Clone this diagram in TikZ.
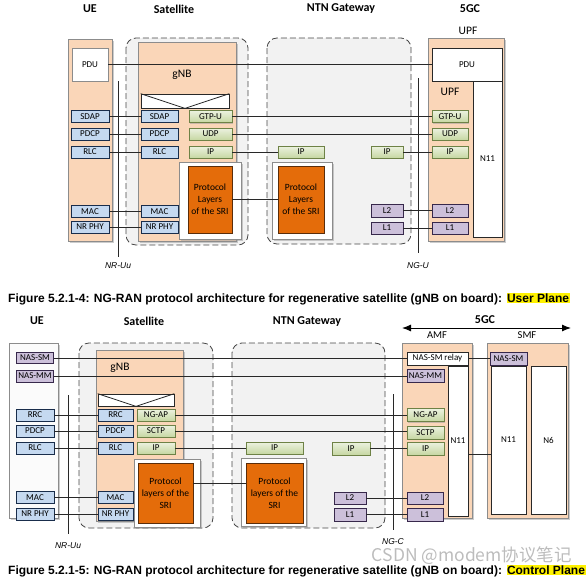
\documentclass[tikz,border=0pt]{standalone}
\usepackage{fontspec}
\setmainfont{Carlito}
\newfontfamily\capfont{Liberation Sans}
\newfontfamily\cjkfont{Noto Sans CJK SC}
\usetikzlibrary{positioning,shadows,arrows.meta,decorations.pathmorphing}

\definecolor{Peach}{RGB}{250,214,184}
\definecolor{PaleBox}{RGB}{251,251,251}
\definecolor{BoxLine}{RGB}{140,140,140}
\definecolor{RegionFill}{RGB}{242,242,242}
\definecolor{RegionLine}{RGB}{70,70,70}
\definecolor{BlueFill}{RGB}{197,217,240}
\definecolor{BlueLine}{RGB}{25,45,75}
\definecolor{GreenTop}{RGB}{236,242,224}
\definecolor{GreenBot}{RGB}{198,215,162}
\definecolor{GreenLine}{RGB}{110,130,70}
\definecolor{PurFill}{RGB}{204,192,218}
\definecolor{PurLine}{RGB}{55,40,75}
\definecolor{SriOrange}{RGB}{228,108,10}
\definecolor{SriLine}{RGB}{90,45,10}
\definecolor{LinkCol}{RGB}{40,40,40}

\newlength\capprewd
\newlength\capgnbwd
\newcommand\capfmt{\capfont\bfseries\fontsize{12}{14}\selectfont}
\newcommand\hlyellow[1]{{\setlength{\fboxsep}{0.5pt}\colorbox{yellow}{#1}}}

\begin{document}
\begin{tikzpicture}[x=1pt,y=-1pt,
    title/.style={font=\bfseries\fontsize{12}{14}\selectfont, inner sep=0pt},
    sublabel/.style={font=\fontsize{11.5}{13}\selectfont, inner sep=0pt},
    region/.style={draw=RegionLine, fill=RegionFill, dash pattern=on 6pt off 3pt, line width=0.8pt, rounded corners=10pt},
    entity/.style={draw=BoxLine, fill=#1, line width=0.6pt, inner sep=0pt,
      drop shadow={shadow xshift=2pt, shadow yshift=-2pt, fill=black!40}},
    layer/.style={draw, line width=0.7pt, inner sep=0pt, minimum height=12pt, font=\fontsize{9}{10}\selectfont},
    blue layer/.style={layer, draw=BlueLine, fill=BlueFill},
    green layer/.style={layer, draw=GreenLine, top color=GreenTop, bottom color=GreenBot,
      drop shadow={shadow xshift=1pt, shadow yshift=-1pt, fill=black!40}},
    purple layer/.style={layer, draw=PurLine, fill=PurFill},
    whitebox/.style={draw=LinkCol, fill=white, line width=0.7pt, inner sep=0pt, font=\fontsize{9}{10}\selectfont},
    sribox/.style={draw=BoxLine, fill=white, line width=0.6pt, inner sep=0pt,
      drop shadow={shadow xshift=1.5pt, shadow yshift=-1.5pt, fill=black!40}},
    sri/.style={draw=SriLine, fill=SriOrange, line width=0.6pt, inner sep=0pt, align=center, font=\fontsize{9.5}{12}\selectfont},
    link/.style={draw=LinkCol, line width=0.8pt},
    iface/.style={font=\capfont\itshape\fontsize{8.5}{10}\selectfont, inner sep=0pt},
    caption/.style={font=\capfmt, inner sep=0pt, anchor=base west},
    spell/.style={draw=red, line width=0.5pt, decorate, decoration={zigzag, amplitude=0.8pt, segment length=2.2pt}}]
  \useasboundingbox (0,0) rectangle (587,581);
  \settowidth{\capprewd}{\capfmt Figure 5.2.1-4: NG-RAN protocol architecture for regenerative satellite (}
  \settowidth{\capgnbwd}{\capfmt gNB}

  %% ---------------- user plane ----------------
  \node[title] (UpUeTtl)  at (90,9)  {UE};
  \node[title] (UpSatTtl) at (174,9) {Satellite};
  \node[title] (UpNtnTtl) at (341,9) {NTN Gateway};
  \node[title] (UpCnTtl)  at (470,9) {5GC};
  \node[sublabel] (UpUpfTtl) at (468,31) {UPF};

  \path[region] (126,38) rectangle (248,245);% satellite
  \path[region] (267,38) rectangle (411,244);% gateway

  \node[entity=Peach, minimum width=44pt, minimum height=202pt] (UpUeBox)  at (90,140) {};
  \node[entity=Peach, minimum width=98pt, minimum height=199pt] (UpGnbBox) at (187,141.5) {};
  \node[entity=Peach, minimum width=76pt, minimum height=203pt] (UpUpfBox) at (466,139.5) {};

  \node[sublabel] (UpGnbLbl) at (182,75) {gNB};
  \node[sublabel] (UpUpfLbl) at (450,92) {UPF};

  \node[whitebox, draw=BoxLine, minimum width=36pt, minimum height=33pt] (UpUePdu) at (90,64.5) {PDU};
  \node[whitebox, minimum width=70pt, minimum height=33pt] (UpUpfPdu) at (467,64.5) {PDU};
  \node[whitebox, minimum width=29pt, minimum height=156pt] (UpUpfN11) at (487.5,159) {N11};
  \node[whitebox, minimum width=88pt, minimum height=14pt] (UpWedge) at (185,101) {};
  \draw[link] (UpWedge.north west) -- (UpWedge.south) -- (UpWedge.north east);

  \node[sribox, minimum width=62pt, minimum height=77pt] (UpSriBoxA) at (210,200.5) {};
  \node[sribox, minimum width=60pt, minimum height=77pt] (UpSriBoxB) at (302,200.5) {};
  \node[sri, minimum width=44pt, minimum height=67pt] (UpSriA) at (210,199.5) {Protocol\\Layers\\of the SRI};
  \node[sri, minimum width=46pt, minimum height=67pt] (UpSriB) at (301,199.5) {Protocol\\Layers\\of the SRI};

  \foreach \nm/\txt/\y in {UpUeSdap/SDAP/116.5, UpUePdcp/PDCP/134, UpUeRlc/RLC/152, UpUeMac/MAC/211.5, UpUePhy/NR PHY/227}
    \node[blue layer, minimum width=38pt] (\nm) at (90,\y) {\txt};
  \foreach \nm/\txt/\y in {UpGnbSdap/SDAP/116.5, UpGnbPdcp/PDCP/134, UpGnbRlc/RLC/152, UpGnbMac/MAC/211.5, UpGnbPhy/NR PHY/227}
    \node[blue layer, minimum width=37pt] (\nm) at (159.5,\y) {\txt};
  \foreach \nm/\txt/\y in {UpGnbGtpu/GTP-U/116.5, UpGnbUdp/UDP/134, UpGnbIp/IP/152}
    \node[green layer, minimum width=43pt] (\nm) at (210.5,\y) {\txt};
  \foreach \nm/\txt/\y in {UpUpfGtpu/GTP-U/116.5, UpUpfUdp/UDP/134, UpUpfIp/IP/152}
    \node[green layer, minimum width=36pt] (\nm) at (450,\y) {\txt};
  \node[green layer, minimum width=46pt] (UpNtnIpA) at (301,152) {IP};
  \node[green layer, minimum width=32pt] (UpNtnIpB) at (387,152) {IP};
  \node[purple layer, minimum width=32pt, minimum height=13pt] (UpNtnL2) at (387,210.5) {L2};
  \node[purple layer, minimum width=32pt] (UpNtnL1) at (387,228) {L1};
  \node[purple layer, minimum width=36pt, minimum height=13pt] (UpUpfL2) at (450,210.5) {L2};
  \node[purple layer, minimum width=36pt] (UpUpfL1) at (450,228) {L1};

  \foreach \a/\b in {UpUePdu/UpUpfPdu, UpUeSdap/UpGnbSdap, UpUePdcp/UpGnbPdcp, UpUeRlc/UpGnbRlc,
      UpUeMac/UpGnbMac, UpUePhy/UpGnbPhy, UpGnbGtpu/UpUpfGtpu, UpGnbUdp/UpUpfUdp,
      UpGnbIp/UpNtnIpA, UpNtnIpB/UpUpfIp, UpSriA/UpSriB, UpNtnL2/UpUpfL2, UpNtnL1/UpUpfL1}
    \draw[link] (\a.east) -- (\a.east -| \b.west);

  \coordinate (UpUuTop) at (118,81);
  \coordinate (UpUuBot) at (118,257);
  \coordinate (UpNgTop) at (418,78);
  \coordinate (UpNgBot) at (418,253);
  \draw[link, line width=0.9pt] (UpUuTop) -- (UpUuBot);
  \draw[link, line width=0.9pt] (UpNgTop) -- (UpNgBot);
  \node[iface, below=5pt of UpUuBot] (UpUuLbl) {NR-Uu};
  \node[iface, below=9pt of UpNgBot] (UpNgLbl) {NG-U};

  \node[caption] (UpCaption) at (8,302.5)
    {Figure 5.2.1-4: NG-RAN protocol architecture for regenerative satellite (gNB on board): \hlyellow{User Plane}};
  \draw[spell] ([xshift=\capprewd, yshift=-2.8pt]UpCaption.base west) -- ++(\capgnbwd,0);

  %% ---------------- control plane ----------------
  \node[title] (CpUeTtl)  at (37,321)  {UE};
  \node[title] (CpSatTtl) at (144,321) {Satellite};
  \node[title] (CpNtnTtl) at (307,322) {NTN Gateway};
  \node[title] (CpCnTtl)  at (485,320) {5GC};
  \node[sublabel, font=\fontsize{10.5}{12}\selectfont] (CpAmfTtl) at (437,335) {AMF};
  \node[sublabel, font=\fontsize{10.5}{12}\selectfont] (CpSmfTtl) at (527,335) {SMF};
  \coordinate (CpArrowL) at (402,328);
  \coordinate (CpArrowR) at (571,328);
  \draw[{Latex[length=9pt,width=7pt]}-{Latex[length=9pt,width=7pt]}, line width=1pt] (CpArrowL) -- (CpArrowR);

  \path[region] (79,343) rectangle (213,528);% satellite
  \path[region] (232,343) rectangle (385,528);% gateway

  \node[entity=PaleBox, minimum width=49pt, minimum height=175pt] (CpUeBox)  at (33.5,430.5) {};
  \node[entity=Peach, minimum width=87pt, minimum height=171pt]   (CpGnbBox) at (139.5,435.5) {};
  \node[entity=Peach, minimum width=70pt, minimum height=175pt]   (CpAmfBox) at (437,430.5) {};
  \node[entity=Peach, minimum width=81pt, minimum height=175pt]   (CpSmfBox) at (527.5,430.5) {};

  \node[sublabel] (CpGnbLbl) at (120,368) {gNB};

  \node[whitebox, minimum width=76pt, minimum height=12pt] (CpWedge) at (136,400) {};
  \draw[link] (CpWedge.north west) -- (CpWedge.south) -- (CpWedge.north east);

  \node[sribox, minimum width=66pt, minimum height=68pt] (CpSriBoxA) at (167,493) {};
  \node[sribox, minimum width=65pt, minimum height=68pt] (CpSriBoxB) at (273.5,492) {};
  \node[sri, minimum width=55pt, minimum height=60pt] (CpSriA) at (165.5,493) {Protocol\\layers of the\\SRI};
  \node[sri, minimum width=57pt, minimum height=60pt] (CpSriB) at (274.5,493) {Protocol\\layers of the\\SRI};

  \node[purple layer, minimum width=37pt, minimum height=11pt] (CpUeNasSm) at (35,358) {NAS-SM};
  \node[purple layer, minimum width=37pt] (CpUeNasMm) at (35,376) {NAS-MM};
  \foreach \nm/\txt/\y in {CpUeRrc/RRC/415, CpUePdcp/PDCP/431, CpUeRlc/RLC/448, CpUeMac/MAC/497.5, CpUePhy/NR PHY/514}
    \node[blue layer, minimum width=38pt] (\nm) at (35,\y) {\txt};
  \foreach \nm/\txt/\y in {CpGnbRrc/RRC/415, CpGnbPdcp/PDCP/431, CpGnbRlc/RLC/448, CpGnbMac/MAC/497.5, CpGnbPhy/NR PHY/514}
    \node[blue layer, minimum width=35pt] (\nm) at (115.5,\y) {\txt};
  \foreach \nm/\txt/\y in {CpGnbNgap/NG-AP/415, CpGnbSctp/SCTP/431, CpGnbIp/IP/448}
    \node[green layer, minimum width=38pt] (\nm) at (156,\y) {\txt};
  \node[green layer, minimum width=57pt] (CpNtnIpA) at (274.5,448) {IP};
  \node[green layer, minimum width=38pt, minimum height=13pt] (CpNtnIpB) at (351,448.5) {IP};
  \node[purple layer, minimum width=32pt] (CpNtnL2) at (350,498) {L2};
  \node[purple layer, minimum width=32pt, minimum height=13pt] (CpNtnL1) at (350,514.5) {L1};

  \node[whitebox, minimum width=61pt, minimum height=13pt] (CpRelay) at (437.5,358.5) {NAS-SM relay};
  \node[purple layer, minimum width=37pt, minimum height=13pt] (CpAmfNasMm) at (425.5,375.5) {NAS-MM};
  \node[whitebox, minimum width=20pt, minimum height=150pt] (CpAmfN11) at (458,441) {N11};
  \foreach \nm/\txt/\y in {CpAmfNgap/NG-AP/415, CpAmfSctp/SCTP/432.5, CpAmfIp/IP/448.5}
    \node[green layer, minimum width=37pt, minimum height=13pt] (\nm) at (425.5,\y) {\txt};
  \node[purple layer, minimum width=36pt] (CpAmfL2) at (425,498) {L2};
  \node[purple layer, minimum width=36pt, minimum height=13pt] (CpAmfL1) at (425,514.5) {L1};

  \node[purple layer, minimum width=37pt, minimum height=13pt] (CpSmfNasSm) at (508.5,359) {NAS-SM};
  \node[whitebox, minimum width=35pt, minimum height=148pt] (CpSmfN11) at (508.5,440) {N11};
  \node[whitebox, minimum width=35pt, minimum height=148pt] (CpSmfN6)  at (548.5,440) {N6};

  \foreach \a/\b in {CpUeNasSm/CpRelay, CpUeNasMm/CpAmfNasMm, CpUeRrc/CpGnbRrc, CpUePdcp/CpGnbPdcp,
      CpUeRlc/CpGnbRlc, CpUeMac/CpGnbMac, CpUePhy/CpGnbPhy, CpGnbNgap/CpAmfNgap, CpGnbSctp/CpAmfSctp,
      CpGnbIp/CpNtnIpA, CpNtnIpB/CpAmfIp, CpNtnL2/CpAmfL2, CpNtnL1/CpAmfL1, CpRelay/CpSmfNasSm}
    \draw[link] (\a.east) -- (\a.east -| \b.west);
  \draw[link] ([yshift=10pt]CpSriA.east) -- ([yshift=10pt]CpSriA.east -| CpSriB.west);
  \draw[link] ([yshift=-13pt]CpAmfN11.east) -- ([yshift=-13pt]CpAmfN11.east -| CpSmfN11.west);

  \coordinate (CpUuTop) at (68,395);
  \coordinate (CpUuBot) at (68,534);
  \coordinate (CpNgTop) at (393,394);
  \coordinate (CpNgBot) at (393,530);
  \draw[link, line width=0.9pt] (CpUuTop) -- (CpUuBot);
  \draw[link, line width=0.9pt] (CpNgTop) -- (CpNgBot);
  \node[iface, below=8pt of CpUuBot] (CpUuLbl) {NR-Uu};
  \node[iface, below=8pt of CpNgBot] (CpNgLbl) {NG-C};

  \node[caption] (CpCaption) at (8,574)
    {Figure 5.2.1-5: NG-RAN protocol architecture for regenerative satellite (gNB on board): \hlyellow{Control Plane}};
  \draw[spell] ([xshift=\capprewd, yshift=-2.8pt]CpCaption.base west) -- ++(\capgnbwd,0);

  \node[font=\cjkfont\fontsize{17.5}{20}\selectfont, text=black!35, opacity=0.75, inner sep=0pt, anchor=base east]
    (Watermark) at (572,561.5) {CSDN @modem协议笔记};
\end{tikzpicture}
\end{document}
